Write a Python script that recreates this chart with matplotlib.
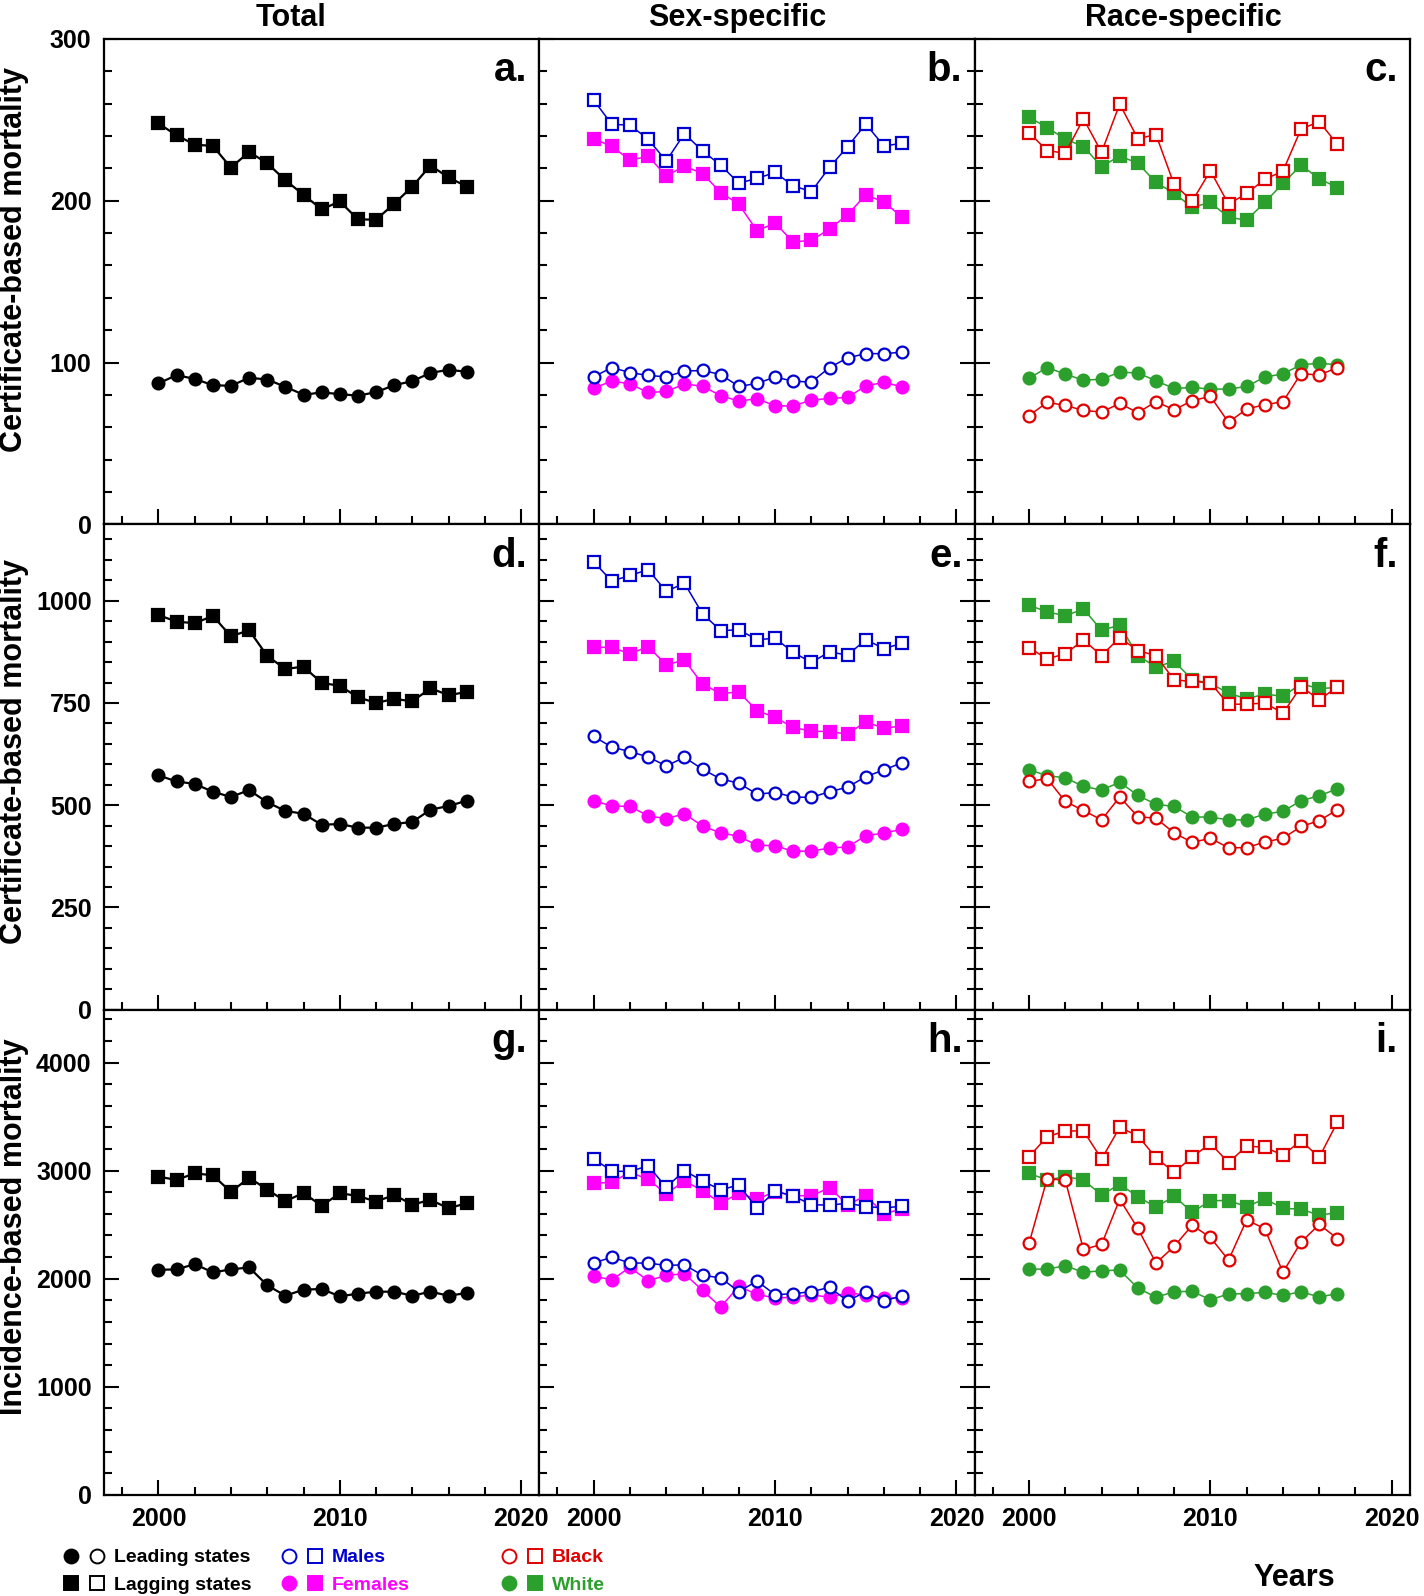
import matplotlib.pyplot as plt
from matplotlib.lines import Line2D
from matplotlib.legend_handler import HandlerTuple
from matplotlib.ticker import MultipleLocator

plt.rcParams['font.family'] = ['Liberation Sans', 'DejaVu Sans']
plt.rcParams['font.weight'] = 'bold'

years = list(range(2000, 2018))

# row 1: certificate-based mortality (lower scale)
a_lead = [87.1, 92.2, 89.9, 86.0, 85.6, 90.6, 89.5, 85.0, 80.1, 81.5, 80.5, 79.5, 81.7, 86.0, 88.5, 93.6, 95.5, 94.3]
a_lag = [247.8, 240.5, 234.7, 233.9, 220.5, 230.2, 223.2, 212.7, 203.7, 194.7, 199.6, 188.5, 188.3, 198.2, 208.8, 221.8, 214.4, 208.8]

b_male_lead = [91.2, 96.9, 93.8, 92.0, 91.2, 94.7, 95.1, 92.6, 85.2, 87.1, 91.0, 88.5, 87.9, 96.9, 102.9, 105.5, 105.5, 106.4]
b_male_lag = [262.2, 247.2, 246.8, 238.0, 224.6, 241.5, 230.8, 222.0, 210.9, 213.8, 217.5, 209.2, 205.7, 220.7, 233.5, 247.4, 233.9, 235.5]
b_fem_lead = [84.0, 88.7, 86.7, 81.5, 82.1, 86.7, 85.4, 79.5, 76.2, 77.6, 73.3, 73.1, 76.8, 77.8, 78.4, 85.6, 87.7, 85.0]
b_fem_lag = [238.2, 233.7, 225.1, 227.5, 215.4, 221.4, 216.8, 205.1, 197.9, 181.5, 186.2, 174.5, 175.6, 182.5, 191.4, 203.7, 199.2, 189.9]

c_black_lead = [67.1, 75.4, 73.5, 70.4, 69.4, 74.7, 69.0, 75.8, 70.8, 76.4, 79.1, 63.0, 71.3, 73.9, 75.8, 93.2, 92.2, 96.9]
c_black_lag = [242.1, 231.0, 229.4, 250.7, 230.0, 259.8, 238.4, 240.9, 210.1, 199.8, 218.5, 197.9, 204.5, 213.3, 218.3, 244.4, 248.9, 234.9]
c_white_lead = [90.3, 96.9, 92.8, 89.1, 89.7, 94.0, 93.6, 88.7, 84.0, 84.6, 83.6, 83.6, 85.2, 91.0, 93.0, 98.6, 99.6, 98.6]
c_white_lag = [251.7, 245.2, 238.2, 233.5, 221.1, 227.7, 223.2, 211.3, 204.7, 195.9, 199.0, 189.7, 188.1, 199.0, 210.7, 222.0, 213.6, 208.2]

# row 2: certificate-based mortality (upper scale)
d_lead = [573, 558, 552, 533, 520, 537, 507, 486, 479, 452, 454, 445, 445, 454, 459, 489, 498, 511]
d_lag = [965, 949, 945, 963, 913, 928, 865, 833, 839, 799, 792, 764, 750, 760, 754, 786, 769, 777]

e_male_lead = [668, 642, 631, 618, 596, 617, 588, 564, 554, 527, 531, 520, 519, 533, 544, 570, 586, 604]
e_male_lag = [1095, 1048, 1062, 1076, 1023, 1043, 968, 927, 929, 905, 908, 874, 849, 875, 867, 905, 883, 896]
e_fem_lead = [511, 498, 497, 474, 467, 479, 449, 432, 424, 402, 401, 387, 388, 395, 398, 425, 432, 441]
e_fem_lag = [886, 886, 870, 888, 843, 855, 796, 773, 777, 731, 715, 690, 681, 680, 674, 704, 688, 694]

f_black_lead = [558, 565, 509, 487, 464, 520, 472, 468, 432, 409, 419, 396, 396, 410, 419, 448, 462, 489]
f_black_lag = [885, 858, 870, 904, 866, 910, 878, 866, 806, 803, 799, 747, 747, 750, 725, 790, 758, 789]
f_white_lead = [587, 572, 567, 546, 537, 556, 524, 502, 497, 471, 471, 464, 464, 478, 485, 511, 523, 540]
f_white_lag = [989, 973, 963, 980, 928, 940, 866, 838, 852, 807, 798, 774, 760, 772, 766, 797, 785, 788]

# row 3: incidence-based mortality
g_lead = [2083, 2086, 2135, 2059, 2086, 2105, 1939, 1843, 1899, 1905, 1837, 1862, 1880, 1880, 1843, 1880, 1843, 1868]
g_lag = [2945, 2914, 2975, 2957, 2803, 2935, 2825, 2717, 2794, 2674, 2791, 2766, 2714, 2775, 2686, 2729, 2652, 2699]

h_male_lead = [2145, 2200, 2145, 2145, 2123, 2129, 2031, 2009, 1880, 1979, 1852, 1862, 1880, 1920, 1794, 1880, 1794, 1843]
h_male_lag = [3108, 2997, 2991, 3046, 2846, 3000, 2905, 2822, 2868, 2652, 2809, 2766, 2686, 2680, 2699, 2668, 2655, 2671]
h_fem_lead = [2022, 1991, 2105, 1982, 2031, 2046, 1892, 1739, 1929, 1855, 1822, 1828, 1852, 1828, 1868, 1852, 1822, 1822]
h_fem_lag = [2883, 2892, 2985, 2920, 2785, 2905, 2815, 2699, 2791, 2735, 2806, 2770, 2766, 2843, 2683, 2769, 2600, 2646]

i_black_lead = [2326, 2926, 2911, 2271, 2317, 2735, 2465, 2145, 2299, 2495, 2382, 2172, 2545, 2462, 2059, 2339, 2502, 2372]
i_black_lag = [3129, 3314, 3366, 3369, 3108, 3400, 3323, 3120, 2985, 3126, 3252, 3074, 3228, 3215, 3145, 3277, 3123, 3449]
i_white_lead = [2089, 2089, 2120, 2059, 2074, 2080, 1914, 1828, 1880, 1883, 1806, 1859, 1862, 1874, 1846, 1880, 1831, 1862]
i_white_lag = [2975, 2914, 2945, 2914, 2775, 2874, 2760, 2662, 2763, 2615, 2723, 2723, 2668, 2739, 2652, 2643, 2588, 2612]

BLUE = '#0000D0'
MAG = '#FF00FF'
RED = '#E00000'
GREEN = '#2CA02C'

W, H = 1424, 1596
fig = plt.figure(figsize=(W / 100, H / 100), dpi=100)

x0, pw = 104, 435.3
y0, ph = 39, 485.3
ylims = [(0, 300), (0, 1187), (0, 4490)]
majors = [100, 250, 1000]
minors = [20, 50, 200]


def series(ax, y, color, marker, filled, lw):
    ax.plot(years, y, color=color, lw=lw, marker=marker, ms=8.5,
            mfc=color if filled else 'white', mec=color, mew=1.6, zorder=3)


axes = {}
for r in range(3):
    for c in range(3):
        ax = fig.add_axes([(x0 + c * pw) / W, 1 - (y0 + (r + 1) * ph) / H, pw / W, ph / H])
        ax.set_xlim(1997, 2021)
        ax.set_ylim(*ylims[r])
        ax.xaxis.set_major_locator(MultipleLocator(10))
        ax.xaxis.set_minor_locator(MultipleLocator(2))
        ax.yaxis.set_major_locator(MultipleLocator(majors[r]))
        ax.yaxis.set_minor_locator(MultipleLocator(minors[r]))
        ax.tick_params(which='both', direction='in', top=False, right=(c == 1),
                       width=1.5, labelsize=18, pad=9)
        ax.tick_params(which='major', length=11)
        ax.tick_params(which='minor', length=6)
        for s in ax.spines.values():
            s.set_linewidth(1.6)
        if c > 0:
            ax.set_yticklabels([])
        else:
            ax.set_yticklabels([f'{int(v)}' for v in ax.get_yticks()])
        if r < 2:
            ax.set_xticklabels([])
        else:
            ax.set_xticklabels([f'{int(v)}' for v in ax.get_xticks()])
        for lab in ax.get_xticklabels() + ax.get_yticklabels():
            lab.set_fontweight('bold')
        ax.text(0.972, 0.913, 'abcdefghi'[r * 3 + c] + '.', transform=ax.transAxes,
                ha='right', va='baseline', fontsize=29, fontweight='bold')
        axes[r, c] = ax

# total column
for r, (lead, lag) in enumerate([(a_lead, a_lag), (d_lead, d_lag), (g_lead, g_lag)]):
    series(axes[r, 0], lag, 'black', 's', True, 1.6)
    series(axes[r, 0], lead, 'black', 'o', True, 1.6)

# sex-specific column
for r, (ml, mg, fl, fg) in enumerate([(b_male_lead, b_male_lag, b_fem_lead, b_fem_lag),
                                       (e_male_lead, e_male_lag, e_fem_lead, e_fem_lag),
                                       (h_male_lead, h_male_lag, h_fem_lead, h_fem_lag)]):
    series(axes[r, 1], fg, MAG, 's', True, 1.1)
    series(axes[r, 1], fl, MAG, 'o', True, 1.1)
    series(axes[r, 1], mg, BLUE, 's', False, 1.1)
    series(axes[r, 1], ml, BLUE, 'o', False, 1.1)

# race-specific column
for r, (bl, bg, wl, wg) in enumerate([(c_black_lead, c_black_lag, c_white_lead, c_white_lag),
                                       (f_black_lead, f_black_lag, f_white_lead, f_white_lag),
                                       (i_black_lead, i_black_lag, i_white_lead, i_white_lag)]):
    series(axes[r, 2], wg, GREEN, 's', True, 1.1)
    series(axes[r, 2], wl, GREEN, 'o', True, 1.1)
    series(axes[r, 2], bg, RED, 's', False, 1.1)
    series(axes[r, 2], bl, RED, 'o', False, 1.1)

# column titles and row labels
for x, t in [(291, 'Total'), (737, 'Sex-specific'), (1183, 'Race-specific')]:
    fig.text(x / W, 1 - 18 / H, t, ha='center', va='center', fontsize=22, fontweight='bold')
for y, t in [(260, 'Certificate-based mortality'), (751, 'Certificate-based mortality'),
             (1227, 'Incidence-based mortality')]:
    fig.text(14 / W, 1 - y / H, t, ha='center', va='center', rotation=90,
             fontsize=22, fontweight='bold')
fig.text(1294 / W, 1 - 1578 / H, 'Years', ha='center', va='center', fontsize=22, fontweight='bold')


def mk(color, marker, filled):
    return Line2D([], [], ls='none', marker=marker, ms=10, mec=color, mew=1.4,
                  mfc=color if filled else 'white')


legend_cols = [
    (52, [(mk('black', 'o', True), mk('black', 'o', False)),
          (mk('black', 's', True), mk('black', 's', False))],
     ['Leading states', 'Lagging states'], ['black', 'black']),
    (270, [(mk(BLUE, 'o', False), mk(BLUE, 's', False)),
           (mk(MAG, 'o', True), mk(MAG, 's', True))],
     ['Males', 'Females'], [BLUE, MAG]),
    (490, [(mk(RED, 'o', False), mk(RED, 's', False)),
           (mk(GREEN, 'o', True), mk(GREEN, 's', True))],
     ['Black', 'White'], [RED, GREEN]),
]
for lx, handles, labels, colors in legend_cols:
    fig.legend(handles, labels, handler_map={tuple: HandlerTuple(ndivide=None, pad=0.4)},
               loc='upper left', bbox_to_anchor=(lx / W, 1 - 1539 / H), frameon=False,
               borderpad=0, handlelength=2.3, handletextpad=0.4, labelspacing=0.5,
               labelcolor=colors, prop={'size': 14, 'weight': 'bold'})

fig.savefig('out.png', dpi=100)
